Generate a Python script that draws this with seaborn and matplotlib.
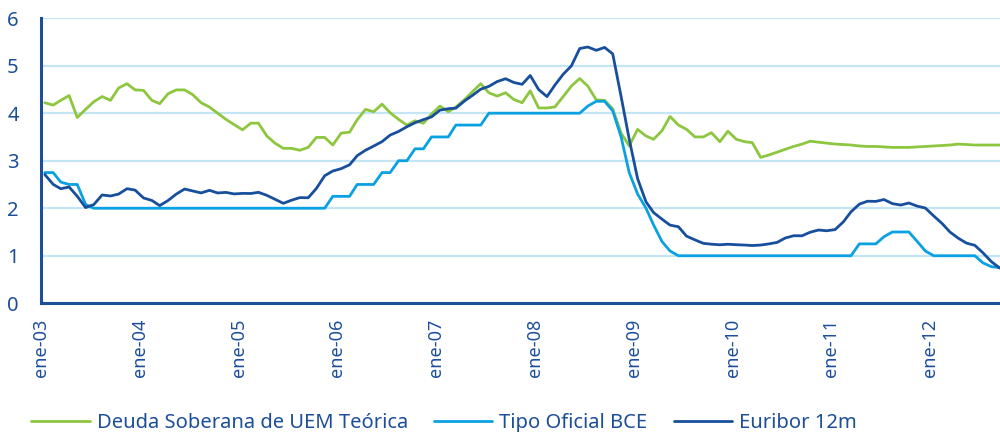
import pandas as pd
import matplotlib
matplotlib.use('Agg')
import matplotlib.pyplot as plt
import seaborn as sns

# monthly data, ene-2003 .. sep-2012
deuda = [4.22, 4.17, 4.27, 4.37, 3.91, 4.08, 4.24, 4.35, 4.27, 4.53, 4.62, 4.49,
         4.48, 4.27, 4.20, 4.41, 4.49, 4.49, 4.39, 4.22, 4.13, 4.00, 3.87, 3.76,
         3.65, 3.79, 3.79, 3.52, 3.37, 3.26, 3.26, 3.22, 3.28, 3.49, 3.49, 3.33,
         3.58, 3.60, 3.86, 4.08, 4.03, 4.19, 4.01, 3.87, 3.75, 3.84, 3.79, 3.98,
         4.15, 4.03, 4.13, 4.28, 4.45, 4.62, 4.43, 4.36, 4.43, 4.29, 4.22, 4.47,
         4.11, 4.11, 4.13, 4.35, 4.57, 4.73, 4.57, 4.28, 4.27, 4.09, 3.58, 3.31,
         3.66, 3.52, 3.45, 3.63, 3.93, 3.75, 3.66, 3.50, 3.50, 3.59, 3.40, 3.62,
         3.45, 3.40, 3.38, 3.07, 3.12, 3.18, 3.24, 3.30, 3.35, 3.41, 3.39, 3.37,
         3.35, 3.34, 3.33, 3.31, 3.30, 3.30, 3.29, 3.28, 3.28, 3.28, 3.29, 3.30,
         3.31, 3.32, 3.33, 3.35, 3.34, 3.33, 3.33, 3.33, 3.33]

tipo_bce = [2.75, 2.75, 2.55, 2.50, 2.50, 2.08, 2.00, 2.00, 2.00, 2.00, 2.00, 2.00,
            2.00, 2.00, 2.00, 2.00, 2.00, 2.00, 2.00, 2.00, 2.00, 2.00, 2.00, 2.00,
            2.00, 2.00, 2.00, 2.00, 2.00, 2.00, 2.00, 2.00, 2.00, 2.00, 2.00, 2.25,
            2.25, 2.25, 2.50, 2.50, 2.50, 2.75, 2.75, 3.00, 3.00, 3.25, 3.25, 3.50,
            3.50, 3.50, 3.75, 3.75, 3.75, 3.75, 4.00, 4.00, 4.00, 4.00, 4.00, 4.00,
            4.00, 4.00, 4.00, 4.00, 4.00, 4.00, 4.15, 4.25, 4.25, 4.05, 3.50, 2.75,
            2.30, 2.00, 1.65, 1.30, 1.10, 1.00, 1.00, 1.00, 1.00, 1.00, 1.00, 1.00,
            1.00, 1.00, 1.00, 1.00, 1.00, 1.00, 1.00, 1.00, 1.00, 1.00, 1.00, 1.00,
            1.00, 1.00, 1.00, 1.25, 1.25, 1.25, 1.40, 1.50, 1.50, 1.50, 1.30, 1.10,
            1.00, 1.00, 1.00, 1.00, 1.00, 1.00, 0.85, 0.77, 0.75]

euribor = [2.709, 2.502, 2.410, 2.447, 2.252, 2.014, 2.076, 2.279, 2.258, 2.298, 2.411, 2.381,
           2.216, 2.163, 2.055, 2.163, 2.297, 2.404, 2.363, 2.322, 2.377, 2.321, 2.333, 2.301,
           2.312, 2.310, 2.335, 2.271, 2.189, 2.103, 2.168, 2.223, 2.220, 2.414, 2.684, 2.783,
           2.833, 2.914, 3.105, 3.221, 3.308, 3.401, 3.539, 3.615, 3.715, 3.799, 3.864, 3.921,
           4.064, 4.094, 4.106, 4.253, 4.373, 4.505, 4.564, 4.666, 4.725, 4.647, 4.607, 4.793,
           4.498, 4.349, 4.590, 4.820, 4.994, 5.361, 5.393, 5.323, 5.384, 5.248, 4.350, 3.452,
           2.622, 2.135, 1.909, 1.771, 1.644, 1.610, 1.412, 1.334, 1.261, 1.243, 1.231, 1.242,
           1.232, 1.225, 1.215, 1.225, 1.249, 1.281, 1.373, 1.421, 1.420, 1.495, 1.541, 1.526,
           1.550, 1.714, 1.924, 2.086, 2.147, 2.144, 2.183, 2.097, 2.067, 2.110, 2.044, 2.004,
           1.837, 1.678, 1.499, 1.368, 1.266, 1.219, 1.061, 0.877, 0.740]

series_names = ['Deuda Soberana de UEM Teórica', 'Tipo Oficial BCE', 'Euribor 12m']
tick_labels = ['ene-03', 'ene-04', 'ene-05', 'ene-06', 'ene-07',
               'ene-08', 'ene-09', 'ene-10', 'ene-11', 'ene-12']

colors = ['#8dc63f', '#0aa1e2', '#174f9d']
dark = '#1c4e9a'

fechas = pd.date_range('2003-01-01', periods=len(euribor), freq='MS') + pd.Timedelta(days=14)
df = pd.concat([
    pd.DataFrame({'fecha': fechas, 'valor': deuda, 'serie': series_names[0]}),
    pd.DataFrame({'fecha': fechas, 'valor': tipo_bce, 'serie': series_names[1]}),
    pd.DataFrame({'fecha': fechas, 'valor': euribor, 'serie': series_names[2]}),
])

sns.set_style('white')
plt.rcParams['font.family'] = ['Noto Sans', 'DejaVu Sans']

fig = plt.figure(figsize=(10, 4.32), dpi=100)
ax = fig.add_axes([0.041, 0.298, 0.959, 0.66])

sns.lineplot(data=df, x='fecha', y='valor', hue='serie', hue_order=series_names,
             palette=colors, linewidth=2.0, ax=ax, legend=False)

ax.set_ylim(0, 6)
ax.set_xlim(pd.Timestamp('2003-01-01'), pd.Timestamp('2012-09-16'))
ax.set_yticks(range(0, 7))
ticks = pd.date_range('2003-01-01', periods=len(tick_labels), freq='YS')
ax.set_xticks(ticks)
ax.set_xticklabels(tick_labels, rotation=90)
ax.set_xlabel('')
ax.set_ylabel('')

ax.grid(axis='y', color='#c4e5f6', linewidth=1.6)
ax.grid(axis='x', visible=False)
ax.set_axisbelow(True)
for s in ['top', 'right']:
    ax.spines[s].set_visible(False)
for s in ['left', 'bottom']:
    ax.spines[s].set_color(dark)
    ax.spines[s].set_linewidth(2.2)
ax.tick_params(axis='both', colors=dark, direction='out', length=5, width=1.8)
ax.tick_params(axis='y', labelsize=14.5, pad=11)
ax.tick_params(axis='x', labelsize=13, pad=6)

handles = ax.get_lines()[:3]
leg = fig.legend(handles, series_names, loc='lower left', bbox_to_anchor=(0.013, -0.045),
                 ncol=3, frameon=False, fontsize=14.5, handlelength=2.9,
                 handletextpad=0.35, columnspacing=1.3)
for t in leg.get_texts():
    t.set_color(dark)

fig.savefig('out.png', dpi=100)
